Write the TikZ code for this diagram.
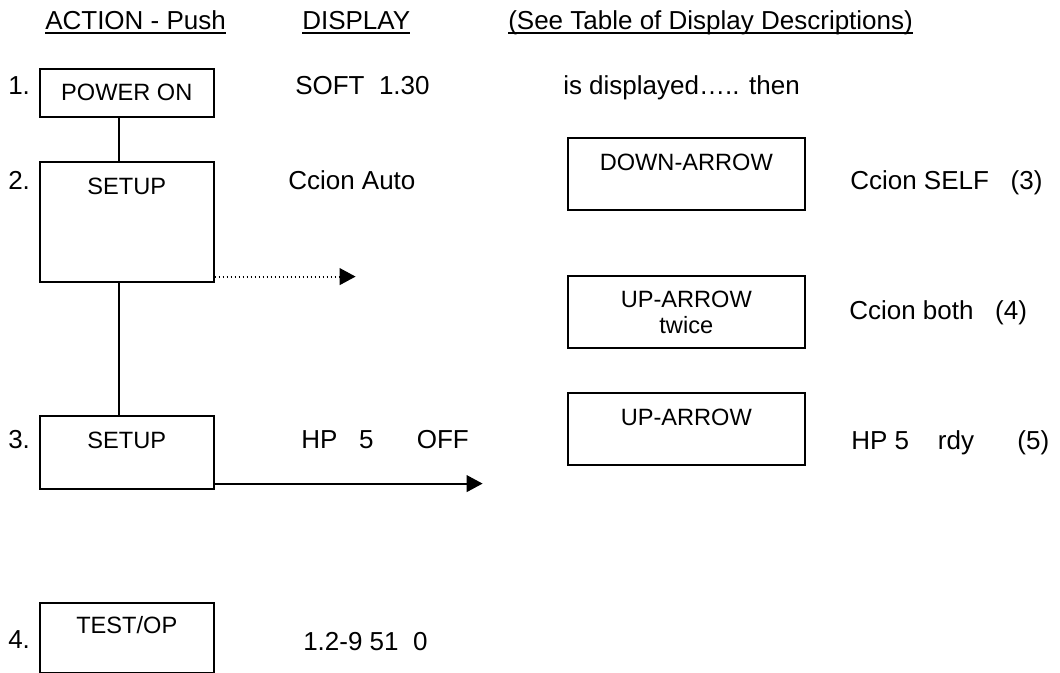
\documentclass[tikz,border=0pt]{standalone}
\usepackage{fontspec}
\setmainfont{Liberation Sans}
\usetikzlibrary{arrows.meta}
\tikzstyle{keybox}=[draw,line width=1.2pt,anchor=north west,inner sep=0pt,minimum width=130.5pt,text height=24.75pt,font=\fontsize{17.7}{19.5}\selectfont]
\tikzstyle{wide keybox}=[keybox,minimum width=177.75pt]
\tikzstyle{readout}=[anchor=base west,inner sep=0pt,font=\fontsize{19.5}{23}\selectfont]
\tikzstyle{underline}=[draw,line width=1.1pt]
\tikzstyle{link}=[draw,line width=1.4pt]
\tikzstyle{flow}=[draw,line width=1.5pt,-{Triangle[length=12pt,width=12.5pt]}]
\tikzstyle{dotted flow}=[flow,line width=1.6pt,dash pattern=on 1.4pt off 1.6pt]

\begin{document}
\begin{tikzpicture}[x=0.75pt,y=-0.75pt]
    \useasboundingbox (0,0) rectangle (1060,673);
    % column headings, underlined
    \foreach \pos/\name/\txt in {{(45,30)/act/ACTION - Push}, {(302,30)/disp/DISPLAY},
                                 {(508,30)/see/(See Table of Display Descriptions)}}
        \node[readout] (\name) at \pos {\txt};
    \foreach \name in {act,disp,see}
        \path[underline] ([yshift=-2.25pt]\name.base west) -- ([yshift=-2.25pt]\name.base east);
    % step numbers
    \foreach \y/\num in {95/1, 190/2, 448/3, 648/4}
        \node[readout] (num\num) at (8,\y) {\num.};
    % keys to push
    \node[keybox,text height=24pt,text depth=12pt] (pwr) at (39,68) {POWER ON};
    \node[keybox,text depth=65.25pt] (setupA) at (39,161) {SETUP};
    \node[keybox,text depth=30pt] (setupB) at (39,415) {SETUP};
    \node[keybox,text height=23.25pt,text depth=29pt] (testOp) at (39,602) {TEST/OP};
    \node[wide keybox,text depth=29.25pt] (downArr) at (567,137) {DOWN-ARROW};
    \node[wide keybox,align=center,text height=43.5pt,text depth=10.5pt] (upTwice) at (567,275) {UP-ARROW\\twice};
    \node[wide keybox,text depth=29.25pt] (upArr) at (567,392) {UP-ARROW};
    % what the display shows
    \node[readout] (soft) at (295,95) {SOFT~~1.30};
    \node[readout] (then) at (563,95) {is displayed….. then};
    \node[readout] (auto) at (288,190) {Ccion Auto};
    \node[readout] (self) at (850,190) {Ccion SELF~~~(3)};
    \node[readout] (both) at (849,320) {Ccion both~~~(4)};
    \node[readout] (hpOff) at (301,448) {HP~~~5~~~~~~OFF};
    \node[readout] (hpRdy) at (851,450) {HP~5~~~~rdy~~~~~~(5)};
    \node[readout] (test) at (303,650) {1.2-9~51~~0};
    % connectors
    \path[link] ([xshift=-6pt]pwr.south) -- ([xshift=-6pt]setupA.north);
    \path[link] ([xshift=-6pt]setupA.south) -- ([xshift=-6pt]setupB.north);
    \path ([yshift=4.5pt]setupA.south east) ++(141,0) coordinate (dotEnd);
    \path ([yshift=4.5pt]setupB.south east) ++(268,0) coordinate (solidEnd);
    \path[dotted flow] ([yshift=4.5pt]setupA.south east) -- (dotEnd);
    \path[flow] ([yshift=4.5pt]setupB.south east) -- (solidEnd);
\end{tikzpicture}
\end{document}
